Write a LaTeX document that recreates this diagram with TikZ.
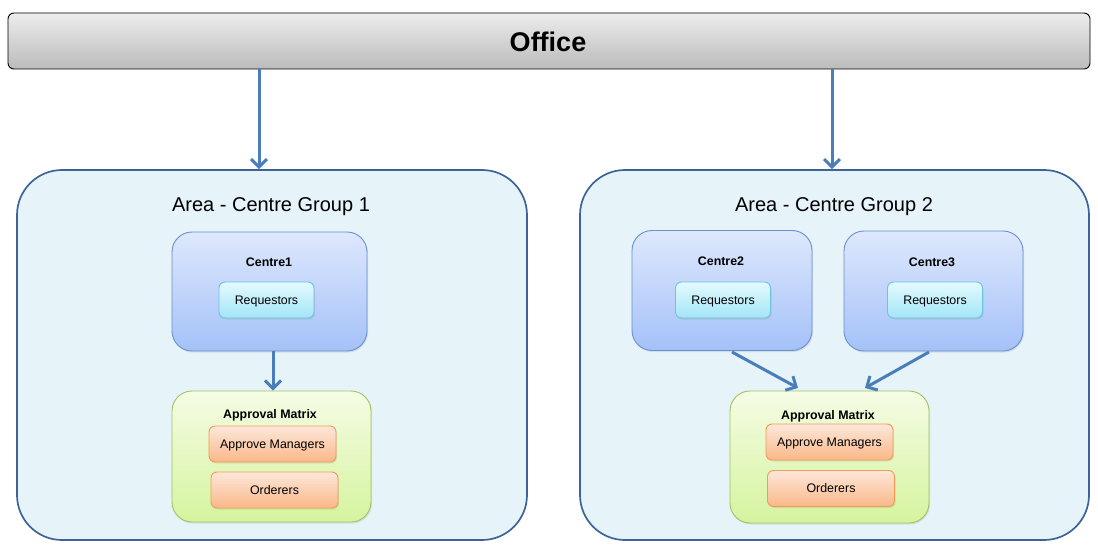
\documentclass[tikz,border=0pt]{standalone}
\usepackage{fontspec}
\setmainfont{Liberation Sans}
\usetikzlibrary{arrows.meta,shadows}
\definecolor{offTop}{HTML}{EDEDED}
\definecolor{offBot}{HTML}{BBBBBB}
\definecolor{areaFill}{HTML}{E6F3F8}
\definecolor{areaLine}{HTML}{3D6499}
\definecolor{cenTop}{HTML}{DEE8FD}
\definecolor{cenBot}{HTML}{A4C1F8}
\definecolor{cenLine}{HTML}{6990D0}
\definecolor{reqTop}{HTML}{E4FAFE}
\definecolor{reqBot}{HTML}{A3E5F7}
\definecolor{reqLine}{HTML}{6CC3DA}
\definecolor{appTop}{HTML}{F5FCE5}
\definecolor{appBot}{HTML}{D5F49E}
\definecolor{appLine}{HTML}{A2C263}
\definecolor{oraTop}{HTML}{FDE7DA}
\definecolor{oraBot}{HTML}{FAB888}
\definecolor{oraLine}{HTML}{F39A55}
\definecolor{arrowCol}{HTML}{4A7EBB}
\tikzset{
  office/.style={draw=black, line width=0.9pt, rounded corners=6pt, top color=offTop, bottom color=offBot, inner sep=0pt},
  area/.style={draw=areaLine, line width=1.7pt, rounded corners=45pt, fill=areaFill, inner sep=0pt},
  centre/.style={draw=cenLine, line width=0.9pt, rounded corners=20pt, top color=cenTop, bottom color=cenBot, inner sep=0pt,
    drop shadow={opacity=0.18, shadow xshift=1pt, shadow yshift=-1.5pt}},
  approval/.style={draw=appLine, line width=0.9pt, rounded corners=20pt, top color=appTop, bottom color=appBot, inner sep=0pt,
    drop shadow={opacity=0.18, shadow xshift=1pt, shadow yshift=-1.5pt}},
  reqbox/.style={draw=reqLine, line width=0.9pt, rounded corners=6pt, top color=reqTop, bottom color=reqBot, inner sep=0pt,
    minimum width=95pt, minimum height=36pt, text depth=0pt, font=\fontsize{12.4}{14}\selectfont,
    drop shadow={opacity=0.18, shadow xshift=1pt, shadow yshift=-1.5pt}},
  orabox/.style={draw=oraLine, line width=0.9pt, rounded corners=6pt, top color=oraTop, bottom color=oraBot, inner sep=0pt,
    minimum width=127pt, minimum height=36pt, text depth=0pt, font=\fontsize{12.4}{14}\selectfont,
    drop shadow={opacity=0.18, shadow xshift=1pt, shadow yshift=-1.5pt}},
  boldlabel/.style={font=\bfseries\fontsize{12.4}{14}\selectfont, inner sep=0pt, text depth=0pt},
  arealabel/.style={font=\fontsize{20}{24}\selectfont, inner sep=0pt, text depth=0pt},
  link/.style={draw=arrowCol, line width=3pt, -{Straight Barb[length=8pt,width=16pt,line width=3pt]}},
}
\begin{document}
\begin{tikzpicture}[x=1pt,y=-1pt]
\useasboundingbox (0,0) rectangle (1098,548);
% Office
\node[office, minimum width=1082pt, minimum height=56pt] (office) at (549,41) {};
\node[font=\bfseries\fontsize{27}{31}\selectfont, inner sep=0pt, text depth=0pt] (officeText) at (548,42) {Office};
% Areas
\node[area, minimum width=510pt, minimum height=370pt] (area1) at (272,355) {};
\node[arealabel] (area1Text) at (271,205) {Area - Centre Group 1};
\node[area, minimum width=509pt, minimum height=370pt] (area2) at (834.5,355) {};
\node[arealabel] (area2Text) at (834,205) {Area - Centre Group 2};
% Area 1 contents
\node[centre, minimum width=195pt, minimum height=119pt] (centre1) at (269.5,291.5) {};
\node[boldlabel] (centre1Text) at (269,262) {Centre1};
\node[reqbox] (req1) at (266.5,300) {Requestors};
\node[approval, minimum width=199pt, minimum height=131pt] (app1) at (271.5,456.5) {};
\node[boldlabel] (app1Text) at (270,414) {Approval Matrix};
\node[orabox] (mgr1) at (272.5,444) {Approve Managers};
\node[orabox] (ord1) at (274.5,490) {Orderers};
% Area 2 contents
\node[centre, minimum width=180pt, minimum height=120pt] (centre2) at (722,290.5) {};
\node[boldlabel] (centre2Text) at (721,261) {Centre2};
\node[reqbox] (req2) at (723,300) {Requestors};
\node[centre, minimum width=179pt, minimum height=120pt] (centre3) at (933.5,291) {};
\node[boldlabel] (centre3Text) at (932,262) {Centre3};
\node[reqbox] (req3) at (935,300) {Requestors};
\node[approval, minimum width=199pt, minimum height=132pt] (app2) at (829.5,457) {};
\node[boldlabel] (app2Text) at (828,415) {Approval Matrix};
\node[orabox] (mgr2) at (829.5,442) {Approve Managers};
\node[orabox] (ord2) at (831,488.5) {Orderers};
% Connectors
\coordinate (o1) at (259,69);
\coordinate (o2) at (832,69);
\draw[link] (o1) -- (o1 |- area1.north);
\draw[link] (o2) -- (o2 |- area2.north);
\coordinate (c1) at (273,351);
\draw[link] (c1) -- (c1 |- app1.north);
\coordinate (c2s) at (732,352);
\coordinate (c2e) at (798,388);
\coordinate (c3s) at (929,352);
\coordinate (c3e) at (865,388);
\draw[link] (c2s) -- (c2e);
\draw[link] (c3s) -- (c3e);
\end{tikzpicture}
\end{document}
